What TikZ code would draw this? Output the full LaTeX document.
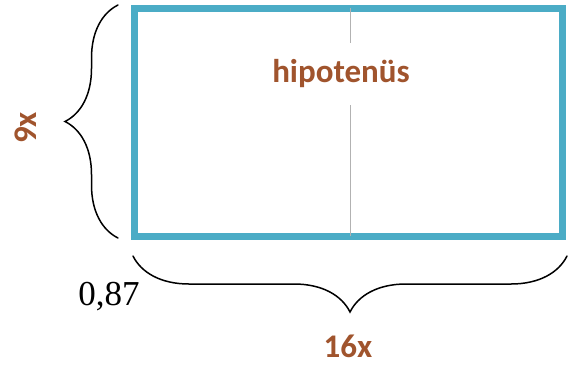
\documentclass[tikz,border=0pt]{standalone}
\usepackage{fontspec}
\setmainfont{Carlito}
\newfontfamily\timesfont{Liberation Serif}
\usetikzlibrary{decorations.pathreplacing}
\definecolor{frameblue}{RGB}{75,172,198}
\definecolor{labelbrown}{RGB}{160,84,45}
\tikzset{
  lbl/.style={font=\fontsize{33}{36}\selectfont\bfseries,text=labelbrown,inner sep=1pt},
  curly/.style={decorate,line width=1.5pt,line cap=round}
}
\begin{document}
\begin{tikzpicture}[x=1pt,y=-1pt]
\useasboundingbox (0,0) rectangle (569,367);
\node[draw=frameblue,line width=7pt,minimum width=428pt,minimum height=228pt,inner sep=0pt] (rect) at (348,122) {};
\coordinate (midtop) at (350,8);
\coordinate (midbot) at (350,236);
\draw[gray!60,line width=0.8pt] (midtop) -- (midbot);
\node[lbl,fill=white,minimum height=62pt,minimum width=150pt] (hyp) at (341,74) {hipotenüs};
\coordinate (lb1) at (118,238);
\coordinate (lb2) at (118,5);
\draw[curly,decoration={brace,amplitude=53pt}] (lb1) -- (lb2);
\coordinate (bb1) at (567,256);
\coordinate (bb2) at (133,256);
\draw[curly,decoration={brace,amplitude=56pt}] (bb1) -- (bb2);
\node[lbl,rotate=90] (nine) at (26,128) {9x};
\node[lbl] (sixteen) at (348,346) {16x};
\node[font=\timesfont\fontsize{35}{38}\selectfont,inner sep=1pt] (ratio) at (109,297) {0,87};
\end{tikzpicture}
\end{document}
